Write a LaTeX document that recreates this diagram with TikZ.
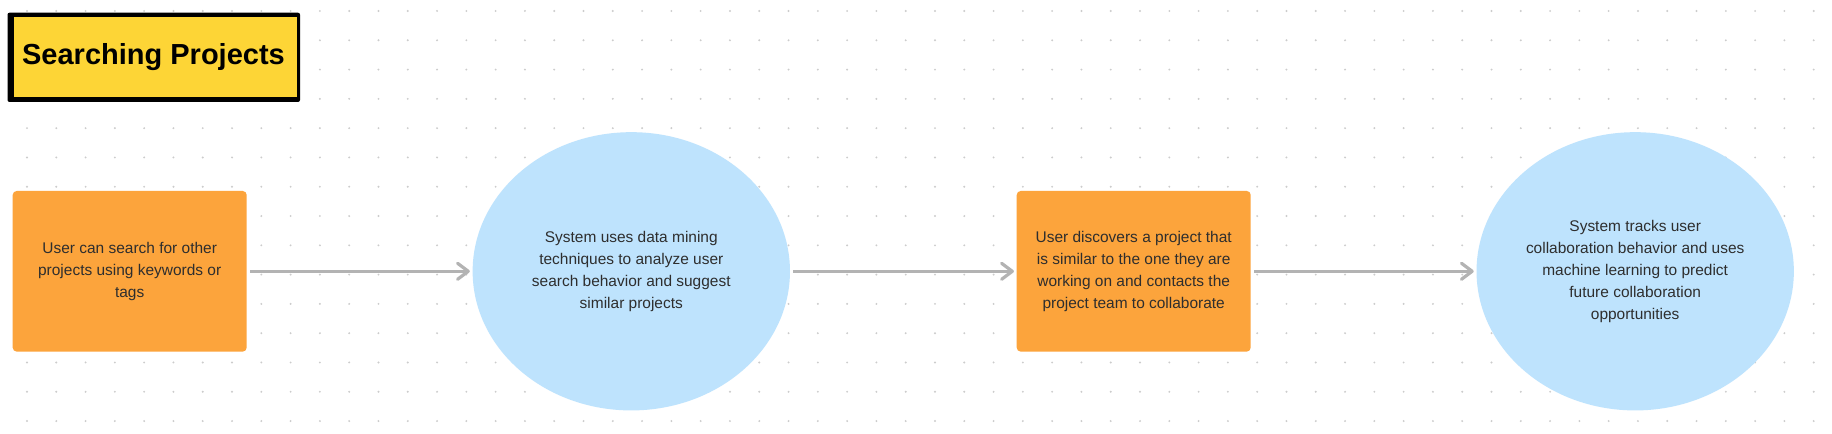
\documentclass[tikz,border=0pt]{standalone}
\usepackage{fontspec}
\setmainfont{Liberation Sans}
\usetikzlibrary{shapes.geometric,arrows.meta}
\definecolor{orangec}{HTML}{FCA43C}
\definecolor{bluec}{HTML}{BEE3FD}
\definecolor{yellowc}{HTML}{FDD536}
\definecolor{arrowc}{HTML}{B3B3B3}
\definecolor{dotc}{HTML}{CCCCCC}
\definecolor{textc}{HTML}{2E2E2E}
\tikzset{
  bodytext/.style={text=textc, align=center, font=\fontsize{11.6pt}{16.4pt}\selectfont, inner sep=0pt},
  orangebox/.style={bodytext, fill=orangec, rounded corners=3pt, minimum width=175.5pt, minimum height=120.5pt},
  blueellipse/.style={bodytext, ellipse, fill=bluec, minimum width=238pt, minimum height=208.7pt},
  flowarrow/.style={draw=arrowc, line width=2.4pt, -{Straight Barb[length=8pt,width=12pt,line cap=round,line join=round]}, shorten <=2.4pt, shorten >=1.9pt},
  titlebox/.style={fill=yellowc, minimum width=211.8pt, minimum height=60.2pt, inner sep=0pt, font=\fontsize{21.75pt}{26pt}\selectfont\bfseries, text=black}
}
\begin{document}
\begin{tikzpicture}[x=0.75pt,y=-0.75pt]
\useasboundingbox (0,0) rectangle (1832,434);
\fill[white] (0,0) rectangle (1832,434);
% dot grid
\foreach \i in {0,...,61}{
  \foreach \j in {0,...,14}{
    \fill[dotc] (27+\i*29.29, 11+\j*29.29) circle (0.8pt);
  }
}
% title
\fill[black, rounded corners=1.5pt] (7.5,12.7) rectangle (300,102);
\node[titlebox] (title) at (155.5,56.85) {\hspace*{-3pt}Searching Projects};
% shapes
\node[orangebox] (b1) at (129.7,271.3) {User can search for other\\projects using keywords or\\tags};
\node[blueellipse] (e1) at (631.3,271.3) {System uses data mining\\techniques to analyze user\\search behavior and suggest\\similar projects};
\node[orangebox] (b2) at (1133.7,271.3) {User discovers a project that\\is similar to the one they are\\working on and contacts the\\project team to collaborate};
\node[blueellipse] (e2) at (1635.2,271.3) {System tracks user\\collaboration behavior and uses\\machine learning to predict\\future collaboration\\opportunities};
% connectors
\draw[flowarrow] (b1) -- (e1);
\draw[flowarrow] (e1) -- (b2);
\draw[flowarrow] (b2) -- (e2);
\end{tikzpicture}
\end{document}
